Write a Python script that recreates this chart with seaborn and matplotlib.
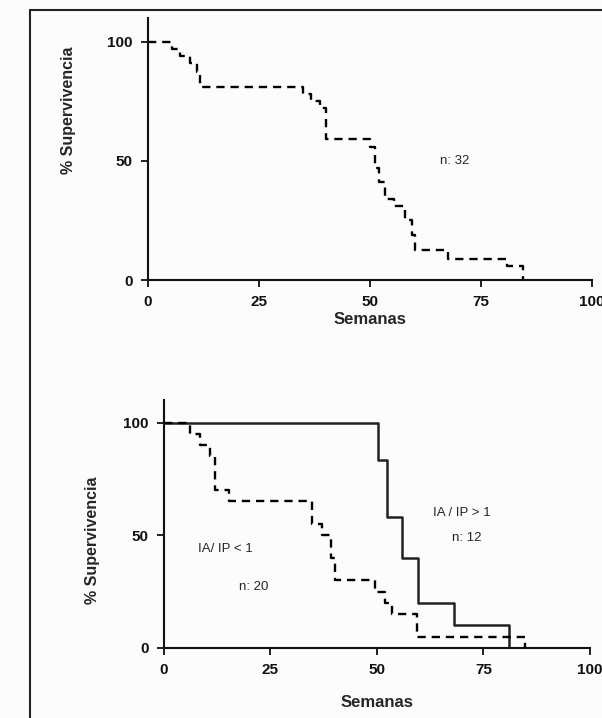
import matplotlib
matplotlib.use("Agg")
import matplotlib.pyplot as plt
import seaborn as sns
import pandas as pd

# ---- data ----
all_weeks = [0, 5.3, 7.2, 9.5, 11.0, 11.8, 35.0, 36.8, 38.8, 40.0, 50.0, 51.2, 52.0, 53.5, 55.5, 58.0, 59.5, 60.2, 67.5, 80.8, 84.5]
all_surv  = [100, 97, 94, 91, 87.5, 81, 78, 75, 72, 59, 56, 47, 41, 34, 31, 25, 19, 12.5, 9, 6, 0]

hi_weeks = [0, 50.2, 52.4, 55.8, 59.7, 68.0, 81.0]
hi_surv  = [100, 83.3, 58.3, 40, 20, 10, 0]

lo_weeks = [0, 6.0, 8.4, 10.7, 12.0, 15.3, 34.7, 37.0, 39.3, 40.2, 49.5, 51.8, 53.5, 59.5, 84.7]
lo_surv  = [100, 95, 90, 85, 70, 65, 55, 50, 40, 30, 25, 20, 15, 5, 0]

x_ticks = [0, 25, 50, 75, 100]
y_ticks = [0, 50, 100]

sns.set_theme(style="ticks")
plt.rcParams['font.family'] = ['Liberation Sans', 'DejaVu Sans']

fig = plt.figure(figsize=(6.02, 7.18), dpi=100)
fig.patch.set_facecolor("#fcfcfc")

ax1 = fig.add_axes([0.2458, 0.610, 0.7375, 0.365])
ax2 = fig.add_axes([0.2724, 0.0975, 0.7076, 0.3454])

df_all = pd.DataFrame({"w": all_weeks, "s": all_surv})
sns.lineplot(data=df_all, x="w", y="s", ax=ax1, drawstyle="steps-post",
             color="black", lw=1.7, linestyle=(0, (3.5, 2.5)))

df_hi = pd.DataFrame({"w": hi_weeks, "s": hi_surv})
df_lo = pd.DataFrame({"w": lo_weeks, "s": lo_surv})
sns.lineplot(data=df_hi, x="w", y="s", ax=ax2, drawstyle="steps-post",
             color="#222222", lw=1.8)
sns.lineplot(data=df_lo, x="w", y="s", ax=ax2, drawstyle="steps-post",
             color="black", lw=1.7, linestyle=(0, (3.5, 2.5)))

for ax, lp in ((ax1, 2), (ax2, 13)):
    ax.set_facecolor("none")
    ax.set_xlim(0, 100)
    ax.set_ylim(0, 110)
    ax.set_xticks(x_ticks)
    ax.set_yticks(y_ticks)
    ax.set_xticklabels([str(t) for t in x_ticks], fontweight="bold", fontsize=11)
    ax.set_yticklabels([str(t) for t in y_ticks], fontweight="bold", fontsize=11)
    sns.despine(ax=ax)
    for sp in ("left", "bottom"):
        ax.spines[sp].set_linewidth(1.5)
        ax.spines[sp].set_color("#111111")
    ax.tick_params(axis="both", length=5, width=1.3, colors="#111111", pad=6)
    ax.set_xlabel("Semanas", fontweight="bold", fontsize=12, labelpad=lp)
    ax.set_ylabel("")

fig.text(0.113, 0.847, "% Supervivencia", rotation=90, ha="center", va="center",
         fontweight="bold", fontsize=11.5)
fig.text(0.153, 0.248, "% Supervivencia", rotation=90, ha="center", va="center",
         fontweight="bold", fontsize=11.5)

ax1.text(69, 50, "n: 32", fontsize=9.5, ha="center", va="center")
ax2.text(70, 60, "IA / IP > 1", fontsize=9.5, ha="center", va="center")
ax2.text(71, 49, "n: 12", fontsize=9.5, ha="center", va="center")
ax2.text(14.5, 44, "IA/ IP < 1", fontsize=9.5, ha="center", va="center")
ax2.text(21, 27, "n: 20", fontsize=9.5, ha="center", va="center")

# scanned frame border
fig.add_artist(plt.Line2D([0.05, 0.05], [0, 0.986], color="#222222", lw=1.5))
fig.add_artist(plt.Line2D([0.05, 1.0], [0.986, 0.986], color="#222222", lw=1.5))

fig.savefig("out.png", dpi=100, facecolor=fig.get_facecolor())
